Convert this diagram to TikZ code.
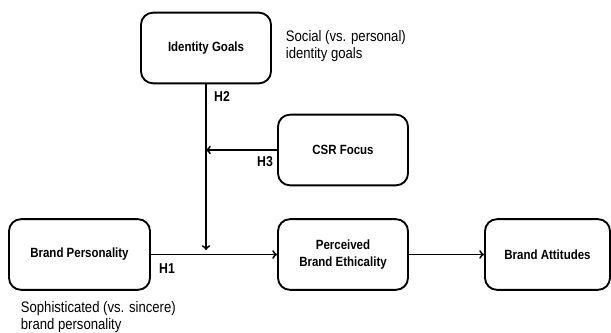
\documentclass[tikz,border=0pt]{standalone}
\usepackage{fontspec}
\setmainfont{Liberation Sans}[FakeStretch=0.86]
\usetikzlibrary{shapes}

\begin{document}
\begin{tikzpicture}[
  box/.style={rectangle, rounded corners=0.36cm, draw, line width=1.6pt,
    minimum width=3.9cm, minimum height=2.12cm, align=center,
    font=\fontsize{11.4}{15}\selectfont\bfseries},
  hyp/.style={font=\fontsize{12.2}{14}\selectfont\bfseries},
  note/.style={anchor=west, align=left, inner sep=0pt,
    font=\fontsize{13}{15.2}\selectfont},
  line width=1.6pt]
\useasboundingbox (0,0) rectangle (18.33,-9.99);

\node (A) at (6.18,-1.44) [box] {Identity Goals};
\node (B) at (10.29,-4.5) [box] {CSR Focus};
\node (C) at (2.385,-7.635) [box, minimum width=4.23cm] {Brand Personality};
\node (D) at (10.29,-7.635) [box] {Perceived\\Brand Ethicality};
\node (E) at (16.425,-7.635) [box, minimum width=3.75cm] {Brand Attitudes};

\coordinate (M) at (A |- B);
\coordinate (N) at (A |- 0,-7.5);

\draw[->] (A) -- (N);
\draw[->] (B) -- (M);
\draw[->] (C) -- (D);
\draw[->] (D) -- (E);

\node (H1) at (5.01,-8.07) [hyp] {H1};
\node (H2) at (6.66,-2.91) [hyp] {H2};
\node (H3) at (7.95,-4.86) [hyp] {H3};

\node (S) at (8.55,-1.38) [note] {Social (vs. personal)\\identity goals};
\node (P) at (0.6,-9.51) [note] {Sophisticated (vs. sincere)\\brand personality};

\end{tikzpicture}
\end{document}
